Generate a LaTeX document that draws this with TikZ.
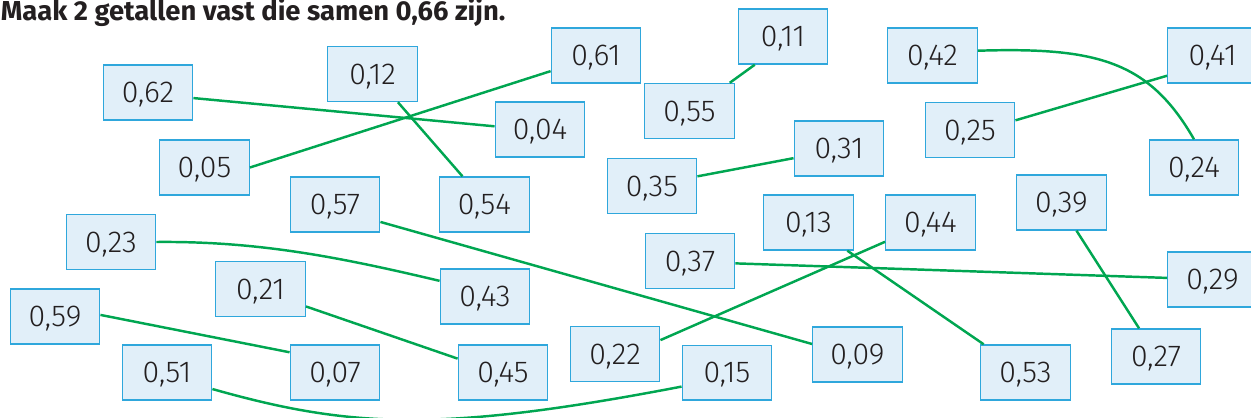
\documentclass[tikz,border=0pt]{standalone}
\usepackage{fontspec}
\setmainfont{Fira Sans}
\newfontfamily\numfont{Fira Sans Light}
\usetikzlibrary{positioning}
\definecolor{CardFill}{HTML}{E1EFF9}
\definecolor{CardEdge}{HTML}{2FA7DC}
\definecolor{PairGreen}{HTML}{00A651}
\definecolor{Ink}{HTML}{231F20}
\tikzset{
  card/.style={draw=CardEdge, line width=0.8pt, fill=CardFill, inner sep=0pt,
               minimum width=1.79cm, minimum height=1.1cm, text depth=0pt,
               font=\numfont\fontsize{17.2}{20}\selectfont, text=Ink},
  pairline/.style={draw=PairGreen, line width=1.4pt},
  task/.style={font=\bfseries\fontsize{15.6}{18}\selectfont, text=Ink,
               anchor=base west, inner sep=0pt},
}
\begin{document}
\begin{tikzpicture}[x=0.02cm, y=-0.02cm]
  \useasboundingbox (0,0) rectangle (1251,418);
  \clip (0,0) rectangle (1251,418);

  \node[task] (title) at (0.5,20.5) {Maak 2 getallen vast die samen 0,66 zijn.};

  % the cards, at their centres (px of the sheet, y downwards)
  \node[card] (n062) at (148,92.5)    {0,62};
  \node[card] (n012) at (372.5,74)    {0,12};
  \node[card] (n061) at (596,55.5)    {0,61};
  \node[card] (n004) at (540,129.5)   {0,04};
  \node[card] (n005) at (204.5,167.5) {0,05};
  \node[card] (n054) at (484.5,204.5) {0,54};
  \node[card] (n057) at (335,204.5)   {0,57};
  \node[card] (n011) at (783,36.5)    {0,11};
  \node[card] (n055) at (689.5,111)   {0,55};
  \node[card] (n035) at (652,186)     {0,35};
  \node[card] (n031) at (839,148.5)   {0,31};
  \node[card] (n042) at (932.5,55.5)  {0,42};
  \node[card] (n025) at (970,130)     {0,25};
  \node[card] (n041) at (1212.5,55.5) {0,41};
  \node[card] (n024) at (1194,167.5)  {0,24};
  \node[card] (n039) at (1061.5,202.5){0,39};
  \node[card] (n023) at (111,242)     {0,23};
  \node[card] (n021) at (260.5,289)   {0,21};
  \node[card] (n043) at (485,296.5)   {0,43};
  \node[card] (n059) at (55,316.5)    {0,59};
  \node[card] (n051) at (167,372.5)   {0,51};
  \node[card] (n007) at (335,372.5)   {0,07};
  \node[card] (n045) at (503,372.5)   {0,45};
  \node[card] (n022) at (615,354)     {0,22};
  \node[card] (n015) at (727,372.7)   {0,15};
  \node[card] (n009) at (857.5,354.5) {0,09};
  \node[card] (n053) at (1025.5,372.5){0,53};
  \node[card] (n027) at (1156,356.5)  {0,27};
  \node[card] (n013) at (808.5,222.5) {0,13};
  \node[card] (n044) at (930.5,222.5) {0,44};
  \node[card] (n037) at (690,261)     {0,37};
  \node[card] (n029) at (1212.5,279.5){0,29};

  % pairs that make 0,66
  \draw[pairline] (n062.-7)   -- (n004.176);
  \draw[pairline] (n012.-48)  -- (n054.128);
  \draw[pairline] (n005.0)    -- (n061.199);
  \draw[pairline] (n055.35)   -- (n011.225);
  \draw[pairline] (n035.12)   -- (n031.192);
  \draw[pairline] (n042.6) .. controls (1097,47) and (1149,61) .. (n024.north);
  \draw[pairline] (n025.12.5) -- (n041.204);
  \draw[pairline] (n057.-21)  -- (n009.167);
  \draw[pairline] (n023.east) .. controls (260,241) and (343,258) .. (n043.161);
  \draw[pairline] (n021.-21)  -- (n045.163);
  \draw[pairline] (n059.2)    -- (n007.156);
  \draw[pairline] (n051.-20.5) .. controls (350,428) and (440,433) .. (n015.197.6);
  \draw[pairline] (n022.17)   -- (n044.203);
  \draw[pairline] (n013.-36.5) -- (n053.146.5);
  \draw[pairline] (n037.-3.5) -- (n029.178.4);
  \draw[pairline] (n039.-62)  -- (n027.121);
\end{tikzpicture}
\end{document}
